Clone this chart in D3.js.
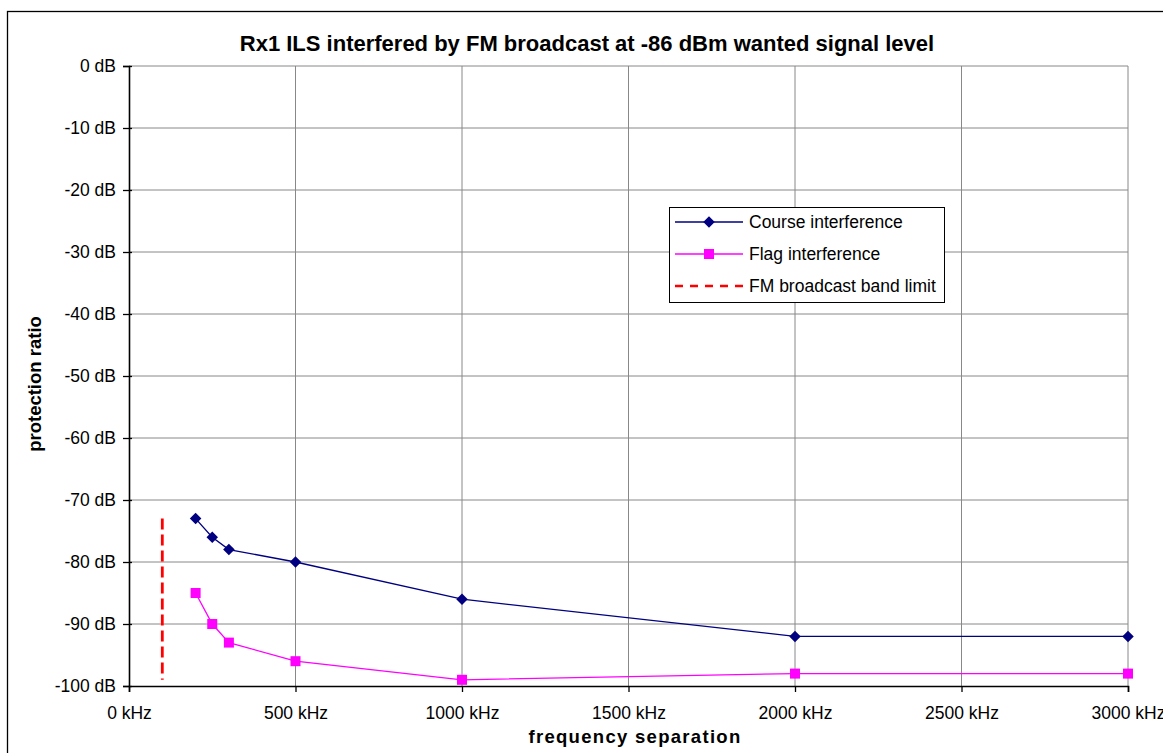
<!DOCTYPE html>
<html>
<head>
<meta charset="utf-8">
<script src="https://cdn.jsdelivr.net/npm/d3@7"></script>
<style>
  body { margin: 0; background: #fff; }
  text { font-family: "Liberation Sans", Arial, sans-serif; }
</style>
</head>
<body>
<div id="chart"></div>
<script>
// data
var courseFreq = [200, 250, 300, 500, 1000, 2000, 3000];
var courseDb = [-73, -76, -78, -80, -86, -92, -92];
var flagFreq = [200, 250, 300, 500, 1000, 2000, 3000];
var flagDb = [-85, -90, -93, -96, -99, -98, -98];
var bandLimitFreq = [100, 100];
var bandLimitDb = [-73, -99];
var xTicks = [0, 500, 1000, 1500, 2000, 2500, 3000];
var yTicks = [0, -10, -20, -30, -40, -50, -60, -70, -80, -90, -100];
var legendLabels = ["Course interference", "Flag interference", "FM broadcast band limit"];

var W = 1163, H = 753;
var plotLeft = 129, plotRight = 1128, plotTop = 66, plotBottom = 686;

var svg = d3.select("#chart").append("svg").attr("width", W).attr("height", H);

// outer chart frame
svg.append("rect").attr("x", 7.5).attr("y", 11.5).attr("width", W).attr("height", H)
  .attr("fill", "none").attr("stroke", "#000").attr("stroke-width", 1.3);

var x = d3.scaleLinear().domain([0, 3000]).range([plotLeft, plotRight]);
var y = d3.scaleLinear().domain([-100, 0]).range([plotBottom, plotTop]);

// grid
svg.append("g").selectAll("line").data(xTicks.slice(1)).enter().append("line")
  .attr("x1", d => x(d)).attr("x2", d => x(d)).attr("y1", plotTop).attr("y2", plotBottom)
  .attr("stroke", "#888").attr("stroke-width", 1);
svg.append("g").selectAll("line").data(yTicks.slice(0, -1)).enter().append("line")
  .attr("x1", plotLeft).attr("x2", plotRight).attr("y1", d => y(d)).attr("y2", d => y(d))
  .attr("stroke", "#888").attr("stroke-width", 1);

// axes
var yAxis = d3.axisLeft(y).tickValues(yTicks).tickFormat(d => d + " dB").tickSize(6).tickPadding(7);
var gy = svg.append("g").attr("transform", "translate(" + plotLeft + ",0)").call(yAxis);
var xAxis = d3.axisBottom(x).tickValues(xTicks).tickFormat(d => d + " kHz").tickSize(6).tickPadding(14.5);
var gx = svg.append("g").attr("transform", "translate(0," + plotBottom + ")").call(xAxis);
[gx, gy].forEach(function (g) {
  g.attr("font-size", null).attr("font-family", null);
  g.select(".domain").attr("stroke", "#000").attr("stroke-width", 1.6);
  g.selectAll(".tick line").attr("stroke", "#000").attr("stroke-width", 1.3);
  g.selectAll(".tick text").style("font-size", "17.5px").attr("fill", "#000");
});
gy.selectAll(".tick line").attr("x2", -6).attr("x1", 3);

// titles
svg.append("text").attr("x", 587).attr("y", 51).attr("text-anchor", "middle")
  .style("font-size", "22px").attr("font-weight", "bold").text("Rx1 ILS interfered by FM broadcast at -86 dBm wanted signal level");
svg.append("text").attr("x", 635).attr("y", 743).attr("text-anchor", "middle")
  .style("font-size", "18.5px").attr("font-weight", "bold").attr("letter-spacing", "1.3px").text("frequency separation");
svg.append("text").attr("transform", "translate(41,384) rotate(-90)").attr("text-anchor", "middle")
  .style("font-size", "18.5px").attr("font-weight", "bold").text("protection ratio");

// series
var line = d3.line().x(d => x(d[0])).y(d => y(d[1]));
var course = d3.zip(courseFreq, courseDb);
var flag = d3.zip(flagFreq, flagDb);
var band = d3.zip(bandLimitFreq, bandLimitDb);

svg.append("path").datum(band).attr("d", line).attr("fill", "none")
  .attr("stroke", "#ff0000").attr("stroke-width", 2.8).attr("stroke-dasharray", "11,5");

svg.append("path").datum(course).attr("d", line).attr("fill", "none")
  .attr("stroke", "#000080").attr("stroke-width", 1.3);
svg.append("g").selectAll("path").data(course).enter().append("path")
  .attr("d", d3.symbol().type(d3.symbolDiamond2).size(85))
  .attr("transform", d => "translate(" + x(d[0]) + "," + y(d[1]) + ")")
  .attr("fill", "#000080");

svg.append("path").datum(flag).attr("d", line).attr("fill", "none")
  .attr("stroke", "#ff00ff").attr("stroke-width", 1.3);
svg.append("g").selectAll("rect").data(flag).enter().append("rect")
  .attr("x", d => x(d[0]) - 5).attr("y", d => y(d[1]) - 5).attr("width", 10).attr("height", 10)
  .attr("fill", "#ff00ff");

// legend
var lg = svg.append("g").attr("transform", "translate(669,207)");
lg.append("rect").attr("x", 0.5).attr("y", 0.5).attr("width", 275).attr("height", 95)
  .attr("fill", "#fff").attr("stroke", "#000").attr("stroke-width", 1);
var rowY = [15, 47, 79];
var colors = ["#000080", "#ff00ff", "#ff0000"];
legendLabels.forEach(function (lab, i) {
  var l = lg.append("line").attr("x1", 6).attr("x2", 74).attr("y1", rowY[i]).attr("y2", rowY[i])
    .attr("stroke", colors[i]).attr("stroke-width", i == 2 ? 2.6 : 1.3);
  if (i == 2) l.attr("stroke-dasharray", "8,7");
  if (i == 0) lg.append("path").attr("d", d3.symbol().type(d3.symbolDiamond2).size(85))
    .attr("transform", "translate(40," + rowY[i] + ")").attr("fill", colors[i]);
  if (i == 1) lg.append("rect").attr("x", 35).attr("y", rowY[i] - 5).attr("width", 10).attr("height", 10).attr("fill", colors[i]);
  lg.append("text").attr("x", 80).attr("y", rowY[i] + 6).style("font-size", "17.5px").text(lab);
});
</script>
</body>
</html>
